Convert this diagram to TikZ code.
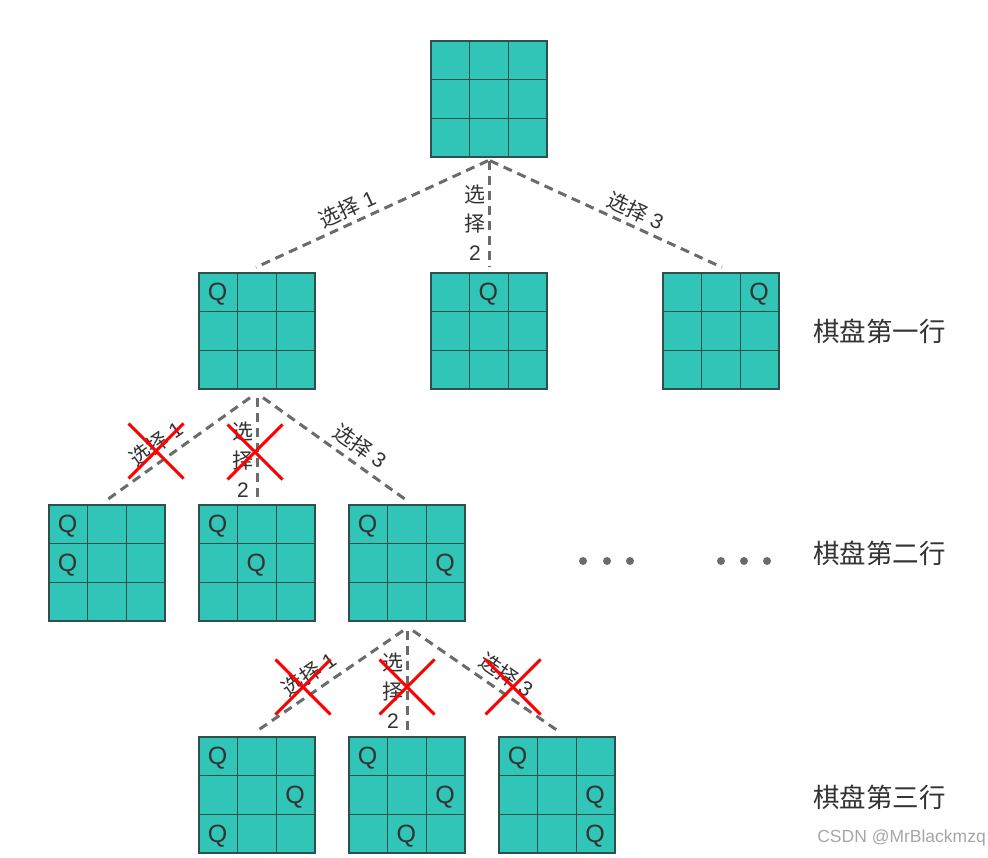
\documentclass[tikz,border=0pt]{standalone}
\usepackage{fontspec}
\setmainfont{Noto Sans CJK SC}
\newfontfamily\lat{Liberation Sans}
\usetikzlibrary{calc,shapes.misc}
\definecolor{cellfill}{HTML}{30C5B6}
\definecolor{cellline}{HTML}{2E4F4C}
\definecolor{dashgray}{HTML}{6B6B6B}
\definecolor{textgray}{HTML}{333333}
% a 3x3 board: name, x, y
\newcommand{\chessboard}[3]{%
  \node[board] (#1) at (#2,#3) {};
  \foreach \k in {1,2} {
    \draw[celledge] ($(#1.north west)!\k/3!(#1.north east)$) -- ($(#1.south west)!\k/3!(#1.south east)$);
    \draw[celledge] ($(#1.north west)!\k/3!(#1.south west)$) -- ($(#1.north east)!\k/3!(#1.south east)$);
  }}
% queens on a board: name, list of row/col
\newcommand{\queens}[2]{%
  \foreach \r/\c [count=\i] in {#2}
    \node[queen] (#1q\i) at ($(#1.north west)+(19.33+38.67*\c,22+38.67*\r)$) {Q};}
\begin{document}
\begin{tikzpicture}[x=1pt, y=-1pt,
  board/.style={draw=cellline, fill=cellfill, line width=1.4pt, minimum size=116pt, inner sep=0pt},
  celledge/.style={cellline, line width=1.4pt},
  queen/.style={text=textgray, font=\lat\fontsize{25}{25}\selectfont, inner sep=0pt},
  choice/.style={dashgray, line width=3pt, dash pattern=on 9pt off 6pt},
  pick/.style={text=textgray, font=\fontsize{21}{29}\selectfont, inner sep=1pt},
  pickv/.style={pick, align=center},
  veto/.style={cross out, draw=red, line width=3pt, minimum size=52pt, inner sep=0pt},
  rowname/.style={text=textgray, font=\fontsize{26.5}{26.5}\selectfont, anchor=west, inner sep=0pt}]
\useasboundingbox (0,0) rectangle (988,858);

% boards
\chessboard{top}{489}{99}
\chessboard{ra}{257}{331}
\chessboard{rb}{489}{331}
\chessboard{rc}{721}{331}
\chessboard{sa}{107}{563}
\chessboard{sb}{257}{563}
\chessboard{sc}{407}{563}
\chessboard{ta}{257}{795}
\chessboard{tb}{407}{795}
\chessboard{tc}{557}{795}

\queens{ra}{0/0}
\queens{rb}{0/1}
\queens{rc}{0/2}
\queens{sa}{0/0,1/0}
\queens{sb}{0/0,1/1}
\queens{sc}{0/0,1/2}
\queens{ta}{0/0,1/2,2/0}
\queens{tb}{0/0,1/2,2/1}
\queens{tc}{0/0,1/2,2/2}

% first row
\draw[choice] ([xshift=-1pt,yshift=-3pt]top.south) -- ([xshift=-1pt,yshift=5pt]ra.north)
  node[pick, pos=0.58, above=3pt, sloped] (la) {选择{\lat\ 1}};
\draw[choice] ([yshift=-3pt]top.south) -- ([yshift=5pt]rb.north)
  node[pickv, pos=0.58, left=1pt] (lb) {选\\择\\{\lat 2}};
\draw[choice] ([xshift=1pt,yshift=-3pt]top.south) -- ([xshift=1pt,yshift=5pt]rc.north)
  node[pick, pos=0.6, above=3pt, sloped] (lc) {选择{\lat\ 3}};

% second row
\draw[choice] ([xshift=-7pt,yshift=-8pt]ra.south) -- ([xshift=-2pt,yshift=3pt]sa.north)
  node[pick, pos=0.58, above=5pt, sloped] (ma) {选择{\lat\ 1}};
\draw[choice] ([yshift=-8pt]ra.south) -- ([yshift=3pt]sb.north)
  node[pickv, pos=0.6, left=1pt] (mb) {选\\择\\{\lat 2}};
\draw[choice] ([xshift=6pt,yshift=-8pt]ra.south) -- ([xshift=1pt,yshift=3pt]sc.north)
  node[pick, pos=0.6, above=5pt, sloped] (mc) {选择{\lat\ 3}};

% third row
\draw[choice] ([xshift=-4pt,yshift=-9pt]sc.south) -- ([xshift=-2pt,yshift=4pt]ta.north)
  node[pick, pos=0.57, above=5pt, sloped] (na) {选择{\lat\ 1}};
\draw[choice] ([yshift=-9pt]sc.south) -- ([yshift=4pt]tb.north)
  node[pickv, pos=0.59, left=1pt] (nb) {选\\择\\{\lat 2}};
\draw[choice] ([xshift=6pt,yshift=-9pt]sc.south) -- ([xshift=3pt,yshift=4pt]tc.north)
  node[pick, pos=0.57, above=5pt, sloped] (nc) {选择{\lat\ 3}};

% crossed out choices
\node[veto] (xa) at (156,451) {};
\node[veto] (xb) at (255,452) {};
\node[veto] (xc) at (303,687) {};
\node[veto] (xd) at (407,687) {};
\node[veto] (xe) at (513,687) {};

% more boards
\foreach \x in {583,607,630,721,744,767}
  \fill[dashgray] (\x,561) circle (4pt);

\node[rowname] (rowa) at (813,331) {棋盘第一行};
\node[rowname] (rowb) at (813,553) {棋盘第二行};
\node[rowname] (rowc) at (813,797) {棋盘第三行};
\node[text=black!35, font=\lat\fontsize{17.5}{17.5}\selectfont, anchor=east, inner sep=0pt] (mark) at (986,838) {CSDN @MrBlackmzq};
\end{tikzpicture}
\end{document}
